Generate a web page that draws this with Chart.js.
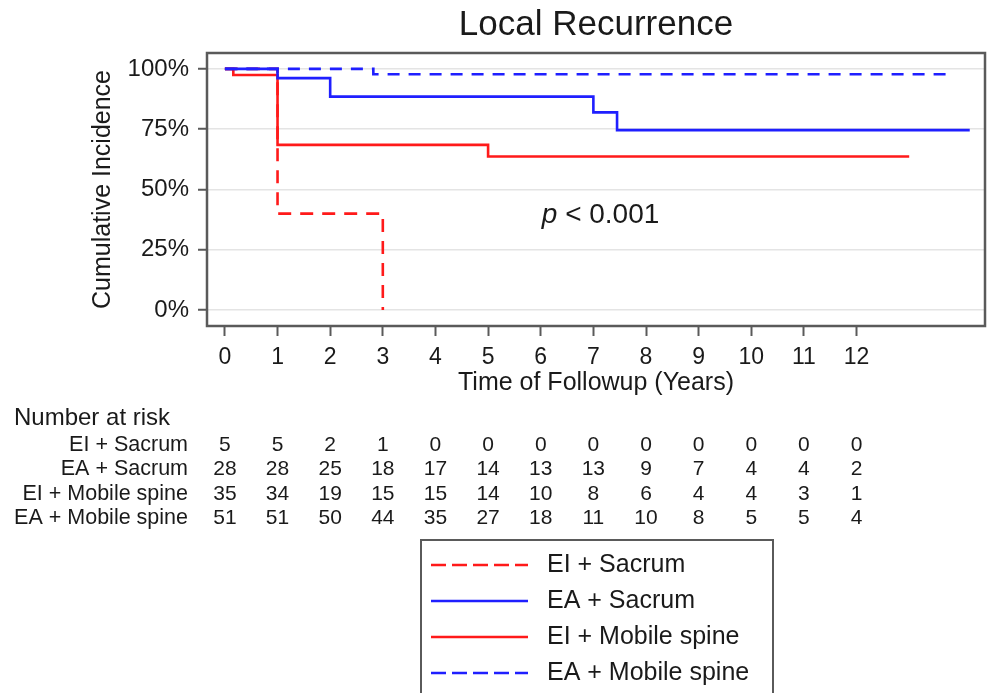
<!DOCTYPE html>
<html><head><meta charset="utf-8">
<script src="https://cdn.jsdelivr.net/npm/chart.js@4.4.1/dist/chart.umd.min.js"></script>
<style>html,body{margin:0;padding:0;background:#fff;} canvas{display:block;}</style>
</head><body>
<canvas id="c" width="987" height="693"></canvas>
<script>
// ---- data ----
const seriesNames = ['EI + Sacrum', 'EA + Sacrum', 'EI + Mobile spine', 'EA + Mobile spine'];
const eiSacrumTime = [0, 1, 3];
const eiSacrumIncidence = [100, 40, 0];
const eaSacrumTime = [0, 1, 2, 7, 7.45, 14.15];
const eaSacrumIncidence = [100, 96.2, 88.5, 82.0, 74.6, 74.6];
const eiMobileTime = [0, 0.16, 1, 5, 13];
const eiMobileIncidence = [100, 97.5, 68.5, 63.7, 63.7];
const eaMobileTime = [0, 2.82, 13.72];
const eaMobileIncidence = [100, 97.8, 97.8];
const xTickYears = [0, 1, 2, 3, 4, 5, 6, 7, 8, 9, 10, 11, 12];
const yTickPercents = [0, 25, 50, 75, 100];
const riskEISacrum = [5, 5, 2, 1, 0, 0, 0, 0, 0, 0, 0, 0, 0];
const riskEASacrum = [28, 28, 25, 18, 17, 14, 13, 13, 9, 7, 4, 4, 2];
const riskEIMobile = [35, 34, 19, 15, 15, 14, 10, 8, 6, 4, 4, 3, 1];
const riskEAMobile = [51, 51, 50, 44, 35, 27, 18, 11, 10, 8, 5, 5, 4];
const pValueText = '< 0.001';
const pValuePos = {x: 6.02, y: 39.4};

// ---- styles ----
const FONT = "'Liberation Sans', Arial, Helvetica, sans-serif";
const TXT = '#1a1a1a';
const RED = '#ff1a1a';
const BLUE = '#1f1fff';
const styles = [
  {color: RED, dash: [13, 9], legendDash: [15, 6]},
  {color: BLUE, dash: [], legendDash: []},
  {color: RED, dash: [], legendDash: []},
  {color: BLUE, dash: [12, 9], legendDash: [15, 6]}
];
const times = [eiSacrumTime, eaSacrumTime, eiMobileTime, eaMobileTime];
const incs = [eiSacrumIncidence, eaSacrumIncidence, eiMobileIncidence, eaMobileIncidence];
const risks = [riskEISacrum, riskEASacrum, riskEIMobile, riskEAMobile];
const drawOrder = [3, 0, 2, 1];

Chart.defaults.font.family = FONT;
Chart.defaults.color = TXT;

const datasets = seriesNames.map((name, i) => ({
  label: name,
  data: times[i].map((t, k) => ({x: t, y: incs[i][k]})),
  borderColor: styles[i].color,
  borderDash: styles[i].dash,
  borderWidth: 2.6,
  pointRadius: 0,
  stepped: 'before',
  fill: false,
  order: drawOrder[i]
}));

const extrasPlugin = {
  id: 'extras',
  beforeDatasetsDraw(chart) {
    const {ctx, chartArea: a} = chart;
    ctx.save();
    ctx.strokeStyle = '#5a5a5a';
    ctx.lineWidth = 2.5;
    ctx.strokeRect(a.left, a.top, a.right - a.left, a.bottom - a.top);
    ctx.restore();
  },
  afterDraw(chart) {
    const {ctx} = chart;
    const xs = chart.scales.x, ys = chart.scales.y;
    ctx.save();
    ctx.fillStyle = TXT;
    // p-value
    const px = xs.getPixelForValue(pValuePos.x), py = ys.getPixelForValue(pValuePos.y);
    ctx.textBaseline = 'middle';
    ctx.textAlign = 'left';
    ctx.font = 'italic 28px ' + FONT;
    ctx.fillText('p', px, py);
    const pw = ctx.measureText('p ').width;
    ctx.font = '28px ' + FONT;
    ctx.fillText(pValueText, px + pw, py);
    // risk table
    ctx.font = '24px ' + FONT;
    ctx.textAlign = 'left';
    ctx.fillText('Number at risk', 14, 418);
    const rowY0 = 445, rowStep = 24.5;
    seriesNames.forEach((name, r) => {
      const y = rowY0 + r * rowStep;
      ctx.font = '21.5px ' + FONT;
      ctx.textAlign = 'right';
      ctx.fillText(name, 188, y);
      ctx.font = '21px ' + FONT;
      ctx.textAlign = 'center';
      risks[r].forEach((n, k) => {
        ctx.fillText(String(n), xs.getPixelForValue(xTickYears[k]), y);
      });
    });
    // legend
    const L = {left: 421, top: 540, right: 773, bottom: 705};
    ctx.fillStyle = '#fff';
    ctx.fillRect(L.left, L.top, L.right - L.left, L.bottom - L.top);
    ctx.strokeStyle = '#5a5a5a';
    ctx.lineWidth = 2;
    ctx.strokeRect(L.left, L.top, L.right - L.left, L.bottom - L.top);
    const legY0 = 565, legStep = 36;
    seriesNames.forEach((name, i) => {
      const y = legY0 + i * legStep;
      ctx.strokeStyle = styles[i].color;
      ctx.lineWidth = 2.6;
      ctx.setLineDash(styles[i].legendDash);
      ctx.beginPath();
      ctx.moveTo(431, y);
      ctx.lineTo(528, y);
      ctx.stroke();
      ctx.setLineDash([]);
      ctx.fillStyle = TXT;
      ctx.font = '25px ' + FONT;
      ctx.textAlign = 'left';
      ctx.textBaseline = 'middle';
      ctx.fillText(name, 547, y);
    });
    ctx.restore();
  }
};

new Chart(document.getElementById('c'), {
  type: 'line',
  data: {datasets},
  options: {
    responsive: false,
    animation: false,
    events: [],
    layout: {padding: {left: 0, right: 2, top: 0, bottom: 294.5}},
    plugins: {
      legend: {display: false},
      tooltip: {enabled: false},
      title: {
        display: true,
        text: 'Local Recurrence',
        fullSize: false,
        color: TXT,
        font: {size: 35, weight: 'normal', family: FONT, lineHeight: 1.2},
        padding: {top: 4.5, bottom: 6.5}
      }
    },
    scales: {
      x: {
        type: 'linear',
        min: -0.34,
        max: 14.44,
        afterBuildTicks: s => { s.ticks = xTickYears.map(v => ({value: v})); },
        afterFit: s => { s.height = 72.5; },
        ticks: {
          autoSkip: false, maxRotation: 0, minRotation: 0,
          padding: 8, color: TXT,
          font: {size: 23, family: FONT},
          callback: v => String(v)
        },
        grid: {drawOnChartArea: false, tickColor: '#5a5a5a', tickLength: 10, tickWidth: 2},
        border: {display: false},
        title: {
          display: true, text: 'Time of Followup (Years)', color: TXT,
          font: {size: 25, family: FONT, lineHeight: 1.2},
          padding: {top: 0, bottom: 0}
        }
      },
      y: {
        type: 'linear',
        min: -6.6,
        max: 106.6,
        afterBuildTicks: s => { s.ticks = yTickPercents.map(v => ({value: v})); },
        afterFit: s => { s.width = 207; },
        ticks: {
          padding: 9, color: TXT,
          font: {size: 24, family: FONT},
          callback: v => v + '%'
        },
        grid: {color: '#e4e4e4', lineWidth: 1.5, tickColor: '#5a5a5a', tickLength: 9, tickWidth: 2},
        border: {display: false},
        title: {
          display: true, text: 'Cumulative Incidence', color: TXT,
          font: {size: 25, family: FONT, lineHeight: 1.2},
          padding: {top: 88, bottom: 0}
        }
      }
    }
  },
  plugins: [extrasPlugin]
});
</script>
</body></html>
